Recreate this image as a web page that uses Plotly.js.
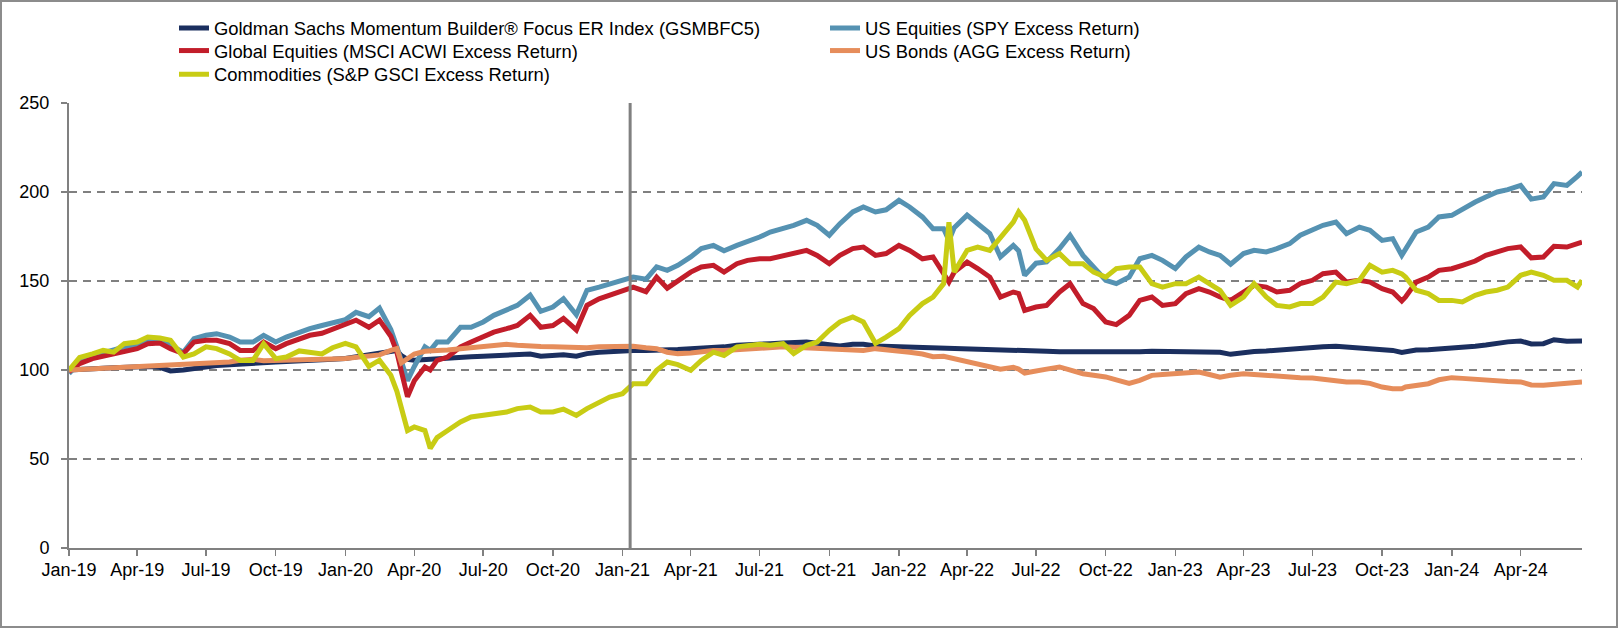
<!DOCTYPE html>
<html>
<head>
<meta charset="utf-8">
<script src="https://cdn.plot.ly/plotly-3.0.1.min.js"></script>
<style>
html,body{margin:0;padding:0;background:#fff;overflow:hidden}
#chart{position:absolute;left:0;top:0;width:1618px;height:628px}
#frame{position:absolute;left:0;top:0;width:1618px;height:628px;box-sizing:border-box;border:2px solid #8c8c8c;pointer-events:none}
</style>
</head>
<body>
<div id="chart"></div>
<div id="frame"></div>
<script>
const dates = [
 '2019-01-01','2019-01-15','2019-02-01','2019-02-15','2019-03-01','2019-03-15','2019-04-01','2019-04-15','2019-05-01','2019-05-15','2019-06-01','2019-06-15',
 '2019-07-01','2019-07-15','2019-08-01','2019-08-15','2019-09-01','2019-09-15','2019-10-01','2019-10-15','2019-11-01','2019-11-15','2019-12-01','2019-12-15',
 '2020-01-01','2020-01-15','2020-02-01','2020-02-15','2020-03-01','2020-03-09','2020-03-15','2020-03-23','2020-04-01','2020-04-15','2020-04-22','2020-05-01','2020-05-15','2020-06-01','2020-06-15',
 '2020-07-01','2020-07-15','2020-08-01','2020-08-15','2020-09-01','2020-09-15','2020-10-01','2020-10-15','2020-11-01','2020-11-15','2020-12-01','2020-12-15',
 '2021-01-01','2021-01-15','2021-02-01','2021-02-15','2021-03-01','2021-03-15','2021-04-01','2021-04-15','2021-05-01','2021-05-15','2021-06-01','2021-06-15',
 '2021-07-01','2021-07-15','2021-08-01','2021-08-15','2021-09-01','2021-09-15','2021-10-01','2021-10-15','2021-11-01','2021-11-15','2021-12-01','2021-12-15',
 '2022-01-01','2022-01-15','2022-02-01','2022-02-15','2022-03-01','2022-03-08','2022-03-15','2022-04-01','2022-04-15','2022-05-01','2022-05-15','2022-06-01','2022-06-08','2022-06-16',
 '2022-07-01','2022-07-15','2022-08-01','2022-08-15','2022-09-01','2022-09-15','2022-10-01','2022-10-15','2022-11-01','2022-11-15','2022-12-01','2022-12-15',
 '2023-01-01','2023-01-15','2023-02-01','2023-02-15','2023-03-01','2023-03-15','2023-04-01','2023-04-15','2023-05-01','2023-05-15','2023-06-01','2023-06-15',
 '2023-07-01','2023-07-15','2023-08-01','2023-08-15','2023-09-01','2023-09-15','2023-10-01','2023-10-15','2023-10-27','2023-11-01','2023-11-15','2023-12-01','2023-12-15',
 '2024-01-01','2024-01-15','2024-02-01','2024-02-15','2024-03-01','2024-03-15','2024-04-01','2024-04-15','2024-05-01','2024-05-15','2024-06-01','2024-06-15','2024-06-21'
];

const gsmbfc5 = [
 100,100.5,100.8,101,101.3,101.5,101.8,102,101.5,99.5,100,101,102,102.5,103,103.5,104,104.3,104.5,104.8,105,105.3,105.5,106,
 106.5,107.5,108.5,109.5,110.5,111,108,106,105.5,106,106,106.4,106.8,107.3,107.5,107.7,108,108.2,108.5,109,107.7,108.2,108.5,107.7,109.2,110,110.5,
 111,111,111,111,111,111.5,112,112.3,112.5,113,113.9,114,114.4,114.8,115.2,115.5,115.7,115,113.9,113.5,114.4,114.5,113.5,113.3,
 112.9,112.7,112.5,112.2,112,112,111.8,111.4,111.2,111,110.7,110.7,110.7,110.6,110.5,110.5,110.3,110.2,110.1,110,110,110,110.1,110.2,110.5,110.5,
 110.2,110.1,110.1,110.1,110,108.8,110,110.4,110.7,111.2,112,112.5,112.9,113.1,113.3,112.9,112.3,112,111.4,111,109.9,110.2,111.2,111.4,111.8,
 112,112.5,113.3,114,115.2,115.8,116.3,114.6,114.8,117,116.1,116.2,116.3
];

const spyER = [
 98,104.5,108,109.5,111,113,114,116.5,117,113.5,110,117.6,119.5,120.4,118.5,115.7,115.7,119.5,115.7,118.5,121.3,123.2,125,126.4,
 128.3,132.4,130,134.8,122.7,113,104,94,102,113,111,115.7,115.7,124,124,127,130.7,133.5,136.3,142,133,135.4,140,131,144.8,146.6,148.5,
 150.4,152.2,151,157.9,156,158.8,163.5,168.2,170,167,170,171.9,174.7,177.5,179.4,181.3,184.1,181.3,175.7,182.2,188.8,191.6,188.8,190,
 195.3,191.6,186,179.4,179.4,172.8,180,187,182.2,176.6,163.5,170,167,153.2,160,160.7,168.2,175.7,164.4,157.9,150.4,148.5,152.2,162.5,164.4,161.6,
 157,163.5,169,166.3,164.4,159.4,165.4,167.2,166.3,168.2,171,175.7,178.5,181.3,183.1,176.6,180.3,178.5,172.8,173.8,164.4,168.2,177.5,180.3,186,
 186.9,190.6,194.4,197.2,200,201.3,203.7,196,197.2,204.7,203.7,208.8,211.2
];

const acwiER = [
 99,103.6,106.4,107.7,109.2,111,112,114.8,115.2,112,109.2,115.7,116.7,116.7,114.8,111,111,115.7,112,114.8,117.6,119.5,120.6,122.7,
 125.5,128,124,128,119,110,99,85,94,101.7,100,105.4,107.3,113,115.7,118.5,121.3,123.2,125,130.7,124,125,129,122.5,136.3,140,142,
 144.8,146.6,144,152.2,146,150.4,155,157.9,158.8,155,159.7,161.6,162.5,162.5,164.4,165.4,167.2,164.4,159.7,164.4,168.2,169.1,164.4,165.4,
 170,167.2,162.5,163.5,154,149.4,155,160.7,157,152.2,141,143.8,143,133.5,135.4,136.3,143.8,148.5,137.3,134.5,127,125.5,130.7,139.1,141,136.3,
 137.3,142.9,145.7,143.8,141,139.1,143.8,147.6,146.6,143.8,144.8,148.5,150.4,154.1,155,149.4,150.4,149.4,145.7,143.8,138.8,141,149.4,152.2,156,
 156.9,158.8,161.2,164.4,166.3,168.2,169.1,163,163.5,169.5,169.1,170.6,171.9
];

const aggER = [
 100,100.3,100.6,101,101,101.5,102,101.8,102,102.5,103,103.5,103.5,103.8,104.5,105.5,106,105.2,105.5,105.3,105.5,105.8,106,106.2,
 106.4,107,108,108.5,111,112,104,106,109,110.5,110.5,111,111.3,112,112.3,113,113.5,114.4,113.9,113.3,113.2,113,112.8,112.5,112.5,113,113.2,
 113.3,113.3,112.5,112,110,109.2,109.6,110.3,111,111,111.4,112,112.5,113,113,112.8,112.5,112.2,111.4,111.4,111,111,112,111.5,
 111,110,109,107.5,107.7,107,106,105,103,101.5,100.5,101.5,100.5,98.3,99.8,100.5,101.7,99.8,97.9,97,96.1,94.5,92.5,94.2,97,97.5,
 97.9,98.5,98.9,97.5,96,97,97.9,97.5,97,96.5,95.7,95.7,95.5,95.1,94,93.3,93.3,92.5,90.4,89.5,89.5,90.5,91.4,92.3,94.5,
 95.7,95.3,94.6,94.2,93.8,93.5,93.3,91.6,91.4,92,92.4,92.7,93.3
];

const gsciER = [
 100,107,109,111,110,114.8,115.7,118.5,118,116.7,107.3,109,113,112,109,105.4,105.4,114.8,106.4,107.3,110.7,110,109,112.5,
 115,113,102,105.5,97,88,78,66,68,66,56,62,66,70.8,73.6,74.5,75.5,76.4,78.3,79.2,76.4,76.4,78,74.5,78.3,82,84.8,
 86.7,92.3,92.3,99.8,104.5,103,99.8,105.4,110,108.2,113,113.9,114.4,113.9,114.8,109.2,113.9,115.7,122.3,127,129.8,127,115,118.5,
 123.2,130.7,137.3,141,148.5,183,155,167.2,169,167.2,174.7,183.1,188.8,184.1,168,161.6,165.4,159.7,159.7,155,152.2,157,157.9,157.9,148.5,146.6,
 148.5,148.5,152.2,148.5,144.8,136.3,141,148.5,141,136.3,135.4,137.3,137.3,141,149.4,148.5,150.4,158.8,155,156,154,152.2,144.8,142.9,139.1,
 139.1,138.2,142,143.8,144.8,146.6,153.2,155,153.2,150.4,150.4,146.6,150.4
];

const seriesNames = [
 'Goldman Sachs Momentum Builder® Focus ER Index (GSMBFC5)',
 'US Equities (SPY Excess Return)',
 'Global Equities (MSCI ACWI Excess Return)',
 'US Bonds (AGG Excess Return)',
 'Commodities (S&P GSCI Excess Return)'
];
const seriesColors = ['#1b2f5f','#5592b2','#c21d2a','#e68d5b','#c8cc14'];
const seriesValues = [gsmbfc5, spyER, acwiER, aggER, gsciER];
const legendGroups = ['legend','legend','legend2','legend2','legend3'];

const tickDates = ['2019-01-01','2019-04-01','2019-07-01','2019-10-01','2020-01-01','2020-04-01','2020-07-01','2020-10-01',
 '2021-01-01','2021-04-01','2021-07-01','2021-10-01','2022-01-01','2022-04-01','2022-07-01','2022-10-01',
 '2023-01-01','2023-04-01','2023-07-01','2023-10-01','2024-01-01','2024-04-01'];
const tickLabels = ['Jan-19','Apr-19','Jul-19','Oct-19','Jan-20','Apr-20','Jul-20','Oct-20','Jan-21','Apr-21','Jul-21','Oct-21',
 'Jan-22','Apr-22','Jul-22','Oct-22','Jan-23','Apr-23','Jul-23','Oct-23','Jan-24','Apr-24'];
const liveDate = '2021-01-11';

const FONT = 'Liberation Sans, Arial, sans-serif';

const traces = seriesValues.map((vals, i) => ({
  type: 'scatter', mode: 'lines', x: dates, y: vals, name: seriesNames[i],
  line: {color: seriesColors[i], width: 5}, legend: legendGroups[i]
}));

const legBase = {
  orientation: 'h', xref: 'container', yref: 'container', xanchor: 'left', yanchor: 'middle',
  x: 174/1618, entrywidth: 606, entrywidthmode: 'pixels',
  font: {family: FONT, size: 18.4, color: '#000'}, bgcolor: 'rgba(0,0,0,0)', borderwidth: 0, traceorder: 'normal'
};

const layout = {
  width: 1618, height: 628,
  margin: {l: 69, r: 36, t: 103, b: 80},
  paper_bgcolor: '#fff', plot_bgcolor: '#fff',
  font: {family: FONT, size: 18, color: '#000'},
  showlegend: true,
  legend: Object.assign({}, legBase, {y: 1 - 28/628}),
  legend2: Object.assign({}, legBase, {y: 1 - 50.6/628}),
  legend3: Object.assign({}, legBase, {y: 1 - 74.3/628}),
  xaxis: {
    type: 'date', range: ['2019-01-01', '2024-06-21'],
    tickmode: 'array', tickvals: tickDates, ticktext: tickLabels,
    showgrid: false, zeroline: false,
    showline: true, linecolor: '#808080', linewidth: 2,
    ticks: 'outside', ticklen: 6, tickwidth: 1.5, tickcolor: '#808080',
    ticklabelstandoff: -2,
    tickfont: {family: FONT, size: 18, color: '#000'}
  },
  yaxis: {
    range: [0, 250], tickvals: [0, 50, 100, 150, 200, 250],
    showgrid: true, gridcolor: '#808080', gridwidth: 2, griddash: '8px,6px',
    zeroline: false,
    showline: true, linecolor: '#808080', linewidth: 2,
    ticks: 'outside', ticklen: 6, tickwidth: 1.5, tickcolor: '#808080',
    ticklabelstandoff: 8,
    tickfont: {family: FONT, size: 18, color: '#000'}
  },
  shapes: [{
    type: 'line', xref: 'x', yref: 'paper', x0: liveDate, x1: liveDate, y0: 0, y1: 1,
    line: {color: '#808080', width: 3}, layer: 'above'
  }]
};

Plotly.newPlot('chart', traces, layout, {staticPlot: true, displayModeBar: false});
</script>
</body>
</html>
